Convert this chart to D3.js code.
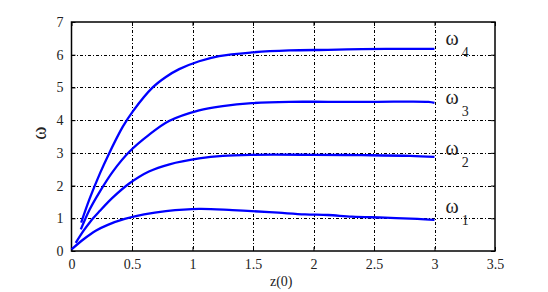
<html>
<head>
<script src="https://d3js.org/d3.v7.min.js"></script>
<style>
  body { margin: 0; background: white; }
  text { font-family: "Liberation Serif", "Times New Roman", serif; fill: #222; }
</style>
</head>
<body>
<script>
// tick values
var xTicks = [0, 0.5, 1, 1.5, 2, 2.5, 3, 3.5];
var yTicks = [0, 1, 2, 3, 4, 5, 6, 7];

// curves
var z1 = [0, 0.1, 0.2, 0.3, 0.44, 0.6, 0.78, 1.055, 1.33, 1.49, 1.71, 1.93, 2.12, 2.32, 2.59, 2.86, 3.0];
var w1 = [0.05, 0.36, 0.62, 0.8, 0.98, 1.12, 1.22, 1.29, 1.25, 1.22, 1.17, 1.12, 1.10, 1.05, 1.02, 0.98, 0.95];
var z2 = [0.035, 0.1, 0.16, 0.233, 0.34, 0.48, 0.64, 0.81, 1.055, 1.25, 1.49, 2.0, 2.4, 2.8, 3.0];
var w2 = [0.25, 0.62, 0.92, 1.22, 1.63, 2.07, 2.43, 2.65, 2.83, 2.91, 2.94, 2.94, 2.93, 2.91, 2.88];
var z3 = [0.077, 0.15, 0.233, 0.34, 0.48, 0.64, 0.81, 1.055, 1.25, 1.49, 1.8, 2.12, 2.5, 2.95, 3.0];
var w3 = [0.66, 1.27, 1.81, 2.42, 3.04, 3.55, 3.98, 4.30, 4.43, 4.52, 4.56, 4.56, 4.56, 4.56, 4.53];
var z4 = [0.08, 0.15, 0.236, 0.30, 0.424, 0.507, 0.671, 0.78, 0.89, 1.055, 1.22, 1.49, 1.8, 2.12, 2.4, 2.7, 3.0];
var w4 = [0.87, 1.6, 2.38, 2.9, 3.8, 4.27, 5.0, 5.32, 5.56, 5.8, 5.96, 6.07, 6.13, 6.15, 6.17, 6.18, 6.18];

var names = ["1", "2", "3", "4"];
var labelAt = [1.16, 2.94, 4.5, 6.3];
var zs = [z1, z2, z3, z4];
var ws = [w1, w2, w3, w4];

var width = 548, height = 292;
var pLeft = 71.5, pRight = 495, pTop = 22, pBottom = 251;

var svg = d3.select("body").append("svg")
  .attr("width", width)
  .attr("height", height);

var x = d3.scaleLinear().domain([0, 3.5]).range([pLeft, pRight]);
var y = d3.scaleLinear().domain([0, 7]).range([pBottom, pTop]);

// grid
var grid = svg.append("g")
  .attr("stroke", "#000")
  .attr("stroke-width", 1)
  .attr("stroke-dasharray", "3,2,1,2")
  .attr("shape-rendering", "crispEdges");
grid.selectAll(".gx").data(xTicks.slice(1, -1)).enter().append("line")
  .attr("x1", function(d) { return Math.round(x(d)) + 0.5; })
  .attr("x2", function(d) { return Math.round(x(d)) + 0.5; })
  .attr("y1", pTop).attr("y2", pBottom);
grid.selectAll(".gy").data(yTicks.slice(1, -1)).enter().append("line")
  .attr("y1", function(d) { return Math.round(y(d)) + 0.5; })
  .attr("y2", function(d) { return Math.round(y(d)) + 0.5; })
  .attr("x1", pLeft).attr("x2", pRight);

// axes, ticks pointing inward
function styleTicks(g) {
  g.select(".domain").remove();
  g.selectAll("text")
    .attr("font-size", 14)
    .attr("font-family", "Liberation Serif")
    .attr("fill", "#222");
}
svg.append("g")
  .attr("transform", "translate(0," + pBottom + ")")
  .call(d3.axisBottom(x).tickValues(xTicks).tickSize(-4).tickPadding(8).tickFormat(d3.format("")))
  .call(styleTicks);
svg.append("g")
  .attr("transform", "translate(" + pLeft + ",0)")
  .call(d3.axisLeft(y).tickValues(yTicks).tickSize(-4).tickPadding(8).tickFormat(d3.format("")))
  .call(styleTicks);
svg.append("g")
  .attr("transform", "translate(0," + pTop + ")")
  .call(d3.axisTop(x).tickValues(xTicks).tickSize(-4).tickFormat(""))
  .call(styleTicks);
svg.append("g")
  .attr("transform", "translate(" + pRight + ",0)")
  .call(d3.axisRight(y).tickValues(yTicks).tickSize(-4).tickFormat(""))
  .call(styleTicks);

// box
svg.append("rect")
  .attr("x", pLeft).attr("y", pTop)
  .attr("width", pRight - pLeft).attr("height", pBottom - pTop)
  .attr("fill", "none").attr("stroke", "#000").attr("stroke-width", 1.5);

// curves
var line = d3.line()
  .x(function(d) { return x(d[0]); })
  .y(function(d) { return y(d[1]); })
  .curve(d3.curveCatmullRom.alpha(0.5));

zs.forEach(function(zz, i) {
  var pts = zz.map(function(v, j) { return [v, ws[i][j]]; });
  svg.append("path")
    .datum(pts)
    .attr("fill", "none")
    .attr("stroke", "#0000ff")
    .attr("stroke-width", 2.3)
    .attr("d", line);

  // labels at the right end
  var last = pts[pts.length - 1];
  var lab = svg.append("text")
    .attr("x", x(last[0]) + 11)
    .attr("y", y(labelAt[i]))
    .attr("font-size", 20);
  lab.append("tspan").text("ω");
  lab.append("tspan").attr("dx", 3).attr("dy", 12).attr("font-size", 14).text(names[i]);
});

// axis titles
svg.append("text")
  .attr("x", x(1.75) - 2)
  .attr("y", 286)
  .attr("text-anchor", "middle")
  .attr("font-size", 14)
  .text("z(0)");
svg.append("text")
  .attr("transform", "translate(46," + y(3.6) + ") rotate(-90)")
  .attr("text-anchor", "middle")
  .attr("font-size", 20)
  .text("ω");
</script>
</body>
</html>
